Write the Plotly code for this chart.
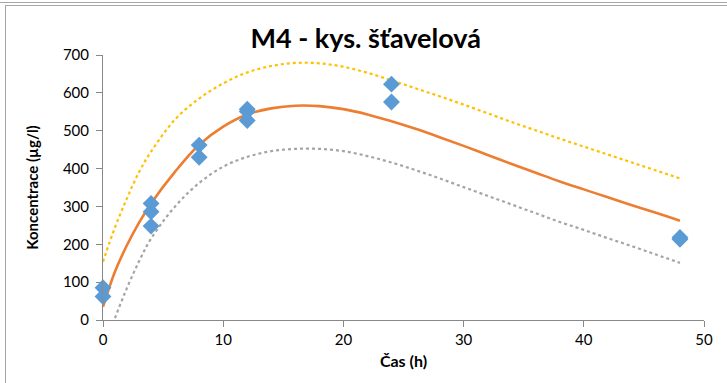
import plotly.graph_objects as go

# measured data points
t_meas = [0, 0, 4, 4, 4, 8, 8, 12, 12, 12, 24, 24, 48, 48]
c_meas = [85, 62, 308, 286, 248, 462, 430, 557, 551, 527, 623, 576, 218, 213]

# fitted curve and band
t_fit = [0, 1, 2, 3, 4, 6, 8, 10, 12, 14, 16, 18, 20, 22, 24, 26, 28, 30, 32, 34, 36, 38, 40, 42, 44, 46, 48]
c_fit = [35, 128, 198, 257, 308, 392, 463, 511, 543, 559, 566, 565, 557, 543, 525, 505, 483, 460, 436, 412, 389, 366, 345, 324, 303, 283, 262]
c_upper = [154, 245, 322, 391, 445, 530, 585, 625, 654, 671, 679, 678, 669, 653, 633, 612, 591, 569, 546, 523, 501, 479, 458, 437, 416, 395, 374]
c_lower = [-85, 5, 85, 155, 215, 300, 362, 405, 431, 446, 452, 452, 446, 433, 416, 396, 374, 351, 328, 305, 282, 259, 238, 216, 195, 173, 151]

x_ticks = [0, 10, 20, 30, 40, 50]
y_ticks = [0, 100, 200, 300, 400, 500, 600, 700]

W, H = 727, 383
L, R, T, B = 103, 23, 55, 63
pw, ph = W - L - R, H - T - B

def px(x):
    return (x - L) / pw

def py(y):
    return (H - B - y) / ph

FONT = "Lato"
AX = "#898989"

fig = go.Figure()
fig.add_trace(go.Scatter(x=t_fit, y=c_upper, mode="lines", line=dict(color="#FFC000", width=2.2, dash="dot", shape="spline"), showlegend=False))
fig.add_trace(go.Scatter(x=t_fit, y=c_lower, mode="lines", line=dict(color="#A5A5A5", width=2.2, dash="dot", shape="spline"), showlegend=False))
fig.add_trace(go.Scatter(x=t_fit, y=c_fit, mode="lines", line=dict(color="#ED7D31", width=2.6, shape="spline"), showlegend=False))
fig.add_trace(go.Scatter(x=t_meas, y=c_meas, mode="markers", marker=dict(symbol="diamond", size=13, color="#5B9BD5"), showlegend=False, cliponaxis=False))

fig.update_layout(
    width=W, height=H,
    margin=dict(l=L, r=R, t=T, b=B),
    paper_bgcolor="white", plot_bgcolor="white",
    font=dict(family=FONT, color="#000000"),
    title=dict(text="<b>M4 - kys. šťavelová</b>", font=dict(family=FONT, size=27, color="#000"),
               x=0.503, xref="container", xanchor="center", y=1 - 39 / H, yref="container", yanchor="middle"),
    xaxis=dict(range=[0, 50], tickvals=x_ticks, showgrid=False, zeroline=False,
               showline=True, linecolor=AX, linewidth=1, ticks="outside", ticklen=6, tickcolor=AX,
               tickfont=dict(family=FONT, size=15, color="#000"),
               title=dict(text="<b>Čas (h)</b>", font=dict(family=FONT, size=16, color="#000"), standoff=8)),
    yaxis=dict(range=[0, 700], tickvals=y_ticks, showgrid=False, zeroline=False,
               showline=True, linecolor=AX, linewidth=1, ticks="outside", ticklen=6, tickcolor=AX,
               tickfont=dict(family=FONT, size=15, color="#000"), ticklabelstandoff=4,
               title=dict(text="<b>Koncentrace (µg/l)</b>", font=dict(family=FONT, size=15, color="#000"), standoff=20)),
    shapes=[
        dict(type="line", xref="paper", yref="paper", x0=px(0), x1=px(W), y0=py(2.5), y1=py(2.5),
             line=dict(color="#A6A6A6", width=1)),
        dict(type="line", xref="paper", yref="paper", x0=px(5), x1=px(W), y0=py(5.5), y1=py(5.5),
             line=dict(color="#A6A6A6", width=1)),
        dict(type="line", xref="paper", yref="paper", x0=px(5.5), x1=px(5.5), y0=py(5.5), y1=py(H),
             line=dict(color="#A6A6A6", width=1)),
    ],
)

fig.write_html("out.html")
